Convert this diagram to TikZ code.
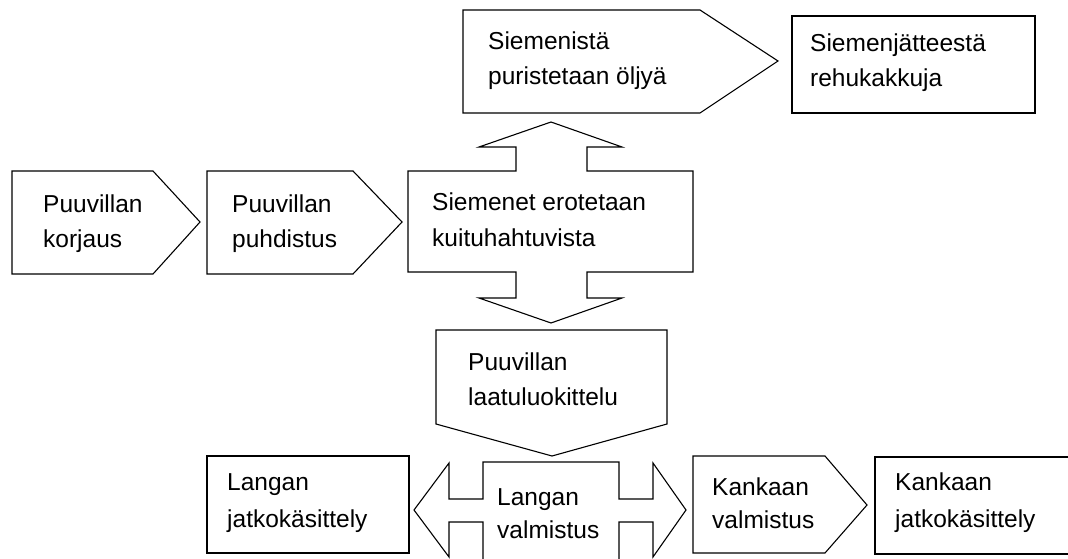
\documentclass[tikz,border=0pt]{standalone}
\usepackage{fontspec}
\setmainfont{Liberation Sans}
\begin{document}
\begin{tikzpicture}[x=1pt,y=-1pt,
  shp/.style={draw=black,line width=1.1pt,line join=miter,fill=white},
  lbl/.style={anchor=base west,inner sep=0pt,font=\fontsize{24.5}{29}\selectfont}]
\useasboundingbox (0,0) rectangle (1068,559);
\clip (0,0) rectangle (1068,559);
% Puuvillan korjaus
\draw[shp] (12,171) -- (153,171) -- (200,222) -- (153,274) -- (12,274) -- cycle;
\node[lbl] (k1) at (43,212) {Puuvillan};
\node[lbl] (k2) at (43,247) {korjaus};
% Puuvillan puhdistus
\draw[shp] (207,171) -- (353,171) -- (402,222) -- (353,274) -- (207,274) -- cycle;
\node[lbl] (p1) at (232,212) {Puuvillan};
\node[lbl] (p2) at (232,247) {puhdistus};
% Siemenet erotetaan (with up and down arrows)
\draw[shp] (408,171) -- (516,171) -- (516,147) -- (479,147) -- (551,122) -- (622,147)
  -- (587,147) -- (587,171) -- (693,171) -- (693,272) -- (587,272) -- (587,298)
  -- (622,298) -- (551,323) -- (479,298) -- (516,298) -- (516,272) -- (408,272) -- cycle;
\node[lbl] (s1) at (432,210) {Siemenet erotetaan};
\node[lbl] (s2) at (432,246) {kuituhahtuvista};
% Siemenista puristetaan oljya
\draw[shp] (463,10) -- (700,10) -- (778,61) -- (700,113) -- (463,113) -- cycle;
\node[lbl] (o1) at (488,50) {Siemenistä};
\node[lbl] (o2) at (488,85) {puristetaan öljyä};
% Siemenjatteesta rehukakkuja
\draw[shp] (792,16) rectangle (1035,113);
\node[lbl] (r1) at (810,52) {Siemenjätteestä};
\node[lbl] (r2) at (810,87) {rehukakkuja};
% Puuvillan laatuluokittelu
\draw[shp] (436,330) -- (667,330) -- (667,424) -- (552,456) -- (436,424) -- cycle;
\node[lbl] (l1) at (468,370) {Puuvillan};
\node[lbl] (l2) at (468,405) {laatuluokittelu};
% Langan valmistus (double arrow)
\draw[shp] (483,570) -- (483,522) -- (449,522) -- (449,557) -- (414,510) -- (449,463)
  -- (449,499) -- (483,499) -- (483,462) -- (619,462) -- (619,499) -- (653,499)
  -- (653,463) -- (686,510) -- (653,557) -- (653,522) -- (619,522) -- (619,570);
\node[lbl] (v1) at (497,505) {Langan};
\node[lbl] (v2) at (497,538) {valmistus};
% Langan jatkokasittely
\draw[shp] (207,456) rectangle (409,553);
\node[lbl] (j1) at (227,490) {Langan};
\node[lbl] (j2) at (227,527) {jatkokäsittely};
% Kankaan valmistus
\draw[shp] (693,456) -- (825,456) -- (867,505) -- (825,553) -- (693,553) -- cycle;
\node[lbl] (kv1) at (712,495) {Kankaan};
\node[lbl] (kv2) at (712,528) {valmistus};
% Kankaan jatkokasittely
\draw[shp] (1075,457) -- (875,457) -- (875,554) -- (1075,554);
\node[lbl] (kj1) at (895,490) {Kankaan};
\node[lbl] (kj2) at (895,527) {jatkokäsittely};
\end{tikzpicture}
\end{document}
